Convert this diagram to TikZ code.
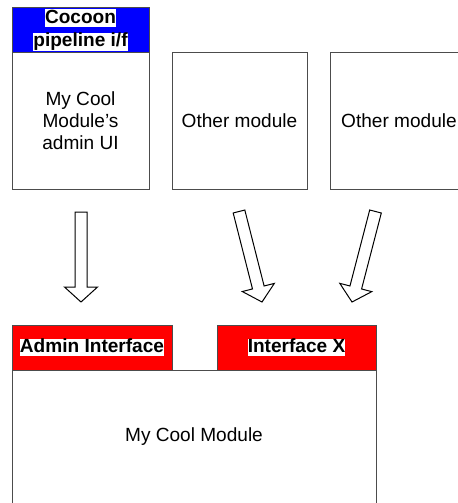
\documentclass[tikz,border=0pt]{standalone}
\usepackage{fontspec}
\setmainfont{Liberation Sans}
\usetikzlibrary{calc}
\newcommand{\hlbox}[1]{{\setlength{\fboxsep}{0pt}\colorbox{white}{\rule[-0.21em]{0pt}{0.92em}#1}}}

\begin{document}
\begin{tikzpicture}[x=0.75pt,y=-0.75pt,
	frame/.style={draw=black!70, line width=0.75pt},
	label/.style={font=\fontsize{14.3}{16.5}\selectfont, align=center, inner sep=0pt},
	tag/.style={font=\fontsize{14.3}{17.6}\selectfont\bfseries, align=center, inner sep=0pt},
	fatarrow/.style={draw=black, line width=0.75pt, fill=white, line join=miter}]
\useasboundingbox (0,0) rectangle (457,503);
%1. 上方的三个模块
\draw[frame] (12,8) rectangle (149,189);
\draw[frame, fill=blue] (12,8) rectangle (149,53);
\draw[frame] (172,53) rectangle (307,189);
\draw[frame] (330,53) rectangle (468,189);
\node[tag] (pipe) at (80.5,30) {\hlbox{Cocoon}\\\hlbox{pipeline i/f}};
\node[label] (adminui) at (80.5,121) {My Cool\\Module’s\\admin UI};
\node[label] (other1) at (239.5,121) {Other module};
\node[label] (other2) at (399,121) {Other module};
%2. 下方的模块和它的接口
\draw[frame] (12,505) -- (12,370) -- (376,370) -- (376,505);
\draw[frame, fill=red] (12,325) rectangle (172,370);
\draw[frame, fill=red] (217,325) rectangle (376,370);
\node[tag] (adminif) at (92,347.5) {\hlbox{Admin Interface}};
\node[tag] (ifx) at (296.5,347.5) {\hlbox{Interface X}};
\node[label] (core) at (194,437) {My Cool Module};
%3. 空心箭头
\coordinate (a1s) at (81,212);
\coordinate (a1e) at (81,302);
\coordinate (a2s) at (239,211.5);
\coordinate (a2e) at (262,302);
\coordinate (a3s) at (375.5,211.5);
\coordinate (a3e) at (352,302);
\foreach \s/\e in {a1s/a1e, a2s/a2e, a3s/a3e}
	{\coordinate (b) at ($(\e)!11.25pt!(\s)$);
	\draw[fatarrow] ($(\s)!4.5pt!90:(\e)$) -- ($(b)!4.5pt!90:(\e)$) -- ($(b)!12.4pt!90:(\e)$) -- (\e)
		-- ($(b)!12.4pt!-90:(\e)$) -- ($(b)!4.5pt!-90:(\e)$) -- ($(\s)!4.5pt!-90:(\e)$) -- cycle;
	}
\end{tikzpicture}
\end{document}
